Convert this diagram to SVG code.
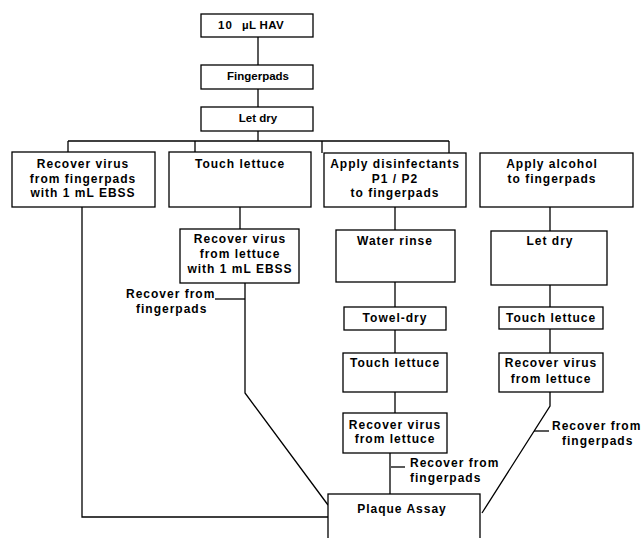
<svg xmlns="http://www.w3.org/2000/svg" width="642" height="538" viewBox="0 0 642 538">
<style>
rect{fill:#fff;stroke:#000;stroke-width:1.3}
.c line,.c polyline{stroke:#000;stroke-width:1.3;fill:none}
text{font-family:"Liberation Sans",Arial,sans-serif;font-weight:bold;font-size:12px;letter-spacing:1px;text-anchor:middle;fill:#000}
.t{font-size:11.5px;letter-spacing:0}
.l{text-anchor:start}
</style>
<rect x="0" y="0" width="642" height="538" style="stroke:none"/>
<g class="c">
<line x1="258" y1="37" x2="258" y2="65"/>
<line x1="258" y1="89" x2="258" y2="107"/>
<line x1="258" y1="131" x2="258" y2="141"/>
<line x1="68" y1="141" x2="449" y2="141"/>
<line x1="68" y1="141" x2="68" y2="152"/>
<line x1="195" y1="141" x2="195" y2="152"/>
<line x1="322" y1="141" x2="322" y2="153"/>
<line x1="449" y1="141" x2="449" y2="153"/>
<polyline points="82,207 82,517 328,517"/>
<line x1="240" y1="207" x2="240" y2="229"/>
<polyline points="245,283 245,393 328,505"/>
<line x1="215" y1="299" x2="245" y2="299"/>
<line x1="395" y1="207" x2="395" y2="230"/>
<line x1="395" y1="282" x2="395" y2="307"/>
<line x1="395" y1="330" x2="395" y2="353"/>
<line x1="395" y1="392" x2="395" y2="413"/>
<line x1="390" y1="453" x2="390" y2="494"/>
<line x1="391" y1="467" x2="405" y2="467"/>
<line x1="550" y1="207" x2="550" y2="231"/>
<line x1="550" y1="285" x2="550" y2="307"/>
<line x1="550" y1="329" x2="550" y2="353"/>
<polyline points="550,392 550,406 482,513"/>
<line x1="534" y1="431" x2="549" y2="431"/>
</g>
<g id="hav"><rect x="201" y="14" width="112" height="23"/><text class="t l" x="218" y="29" style="letter-spacing:1px">10</text><text class="t l" x="242" y="29" style="letter-spacing:0.3px">µL HAV</text></g>
<g id="fingerpads"><rect x="201" y="65" width="112" height="24"/><text class="t" x="258" y="80">Fingerpads</text></g>
<g id="letdry"><rect x="201" y="107" width="112" height="24"/><text class="t" x="258" y="122">Let dry</text></g>
<g id="recover1"><rect x="12" y="152" width="143" height="55"/><text x="83" y="168">Recover virus</text><text x="83" y="183">from fingerpads</text><text x="83" y="197">with 1 mL EBSS</text></g>
<g id="touch1"><rect x="169" y="152" width="142" height="55"/><text x="240" y="168">Touch lettuce</text></g>
<g id="recover2"><rect x="180" y="229" width="119" height="54"/><text x="240" y="243">Recover virus</text><text x="240" y="258">from lettuce</text><text x="240" y="273">with 1 mL EBSS</text></g>
<text class="l" x="126" y="298">Recover from</text>
<text class="l" x="136" y="313">fingerpads</text>
<g id="disinf"><rect x="324" y="153" width="142" height="54"/><text x="395" y="168">Apply disinfectants</text><text x="395" y="183">P1 / P2</text><text x="395" y="197">to fingerpads</text></g>
<g id="rinse"><rect x="336" y="230" width="119" height="52"/><text x="395" y="245">Water rinse</text></g>
<g id="towel"><rect x="344" y="307" width="102" height="23"/><text x="395" y="322">Towel-dry</text></g>
<g id="touch3"><rect x="343" y="353" width="104" height="39"/><text x="395" y="367">Touch lettuce</text></g>
<g id="recover3"><rect x="343" y="413" width="104" height="40"/><text x="395" y="429">Recover virus</text><text x="395" y="443">from lettuce</text></g>
<text class="l" x="410" y="467">Recover from</text>
<text class="l" x="410" y="482">fingerpads</text>
<g id="alcohol"><rect x="480" y="153" width="153" height="54"/><text x="552" y="168">Apply alcohol</text><text x="552" y="183">to fingerpads</text></g>
<g id="letdry2"><rect x="491" y="231" width="116" height="54"/><text x="550" y="245">Let dry</text></g>
<g id="touch4"><rect x="499" y="307" width="104" height="22"/><text x="551" y="322">Touch lettuce</text></g>
<g id="recover4"><rect x="499" y="353" width="104" height="39"/><text x="551" y="367">Recover virus</text><text x="551" y="383">from lettuce</text></g>
<text class="l" x="552" y="430">Recover from</text>
<text class="l" x="562" y="445">fingerpads</text>
<g id="plaque"><rect x="328" y="494" width="152" height="60"/><text x="402" y="513">Plaque Assay</text></g>
</svg>
